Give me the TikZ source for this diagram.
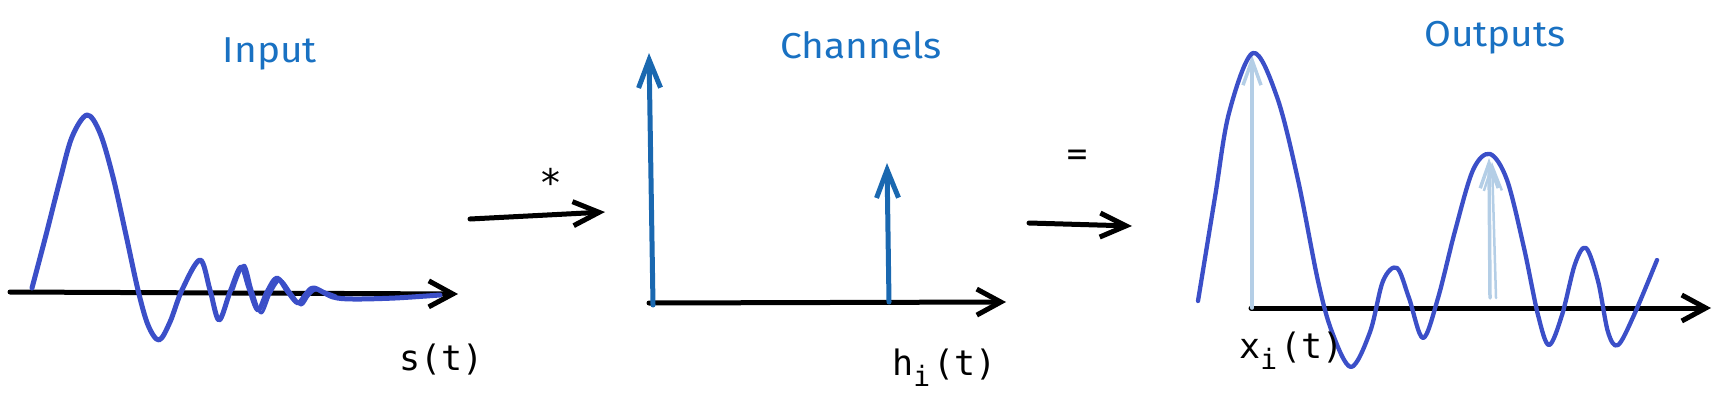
\documentclass[tikz,border=0pt]{standalone}
\usepackage{fontspec}
\setmainfont{Fira Sans}
\newfontfamily\monof{DejaVu Sans Mono}
\usetikzlibrary{arrows.meta}
\definecolor{wavec}{HTML}{3B4FC8}
\definecolor{chanc}{HTML}{1A68B0}
\definecolor{ghostc}{HTML}{B4CEE6}
\definecolor{titlec}{HTML}{1971C2}
\newcommand{\subi}{\makebox[20.5pt][l]{\raisebox{-11pt}{\fontsize{28}{28}\selectfont i}}}
\begin{document}
\begin{tikzpicture}[x=1pt,y=-1pt,
  axisline/.style={draw=black,line width=5pt,line cap=round,-{Straight Barb[length=24pt,width=26pt]}},
  joinarrow/.style={draw=black,line width=5pt,line cap=round,-{Straight Barb[length=26pt,width=24pt]}},
  wave/.style={draw=wavec,line width=5pt,line join=round,line cap=round},
  impulse/.style={draw=chanc,line width=5pt,line cap=round,-{Straight Barb[length=28pt,width=22pt]}},
  ghost/.style={draw=ghostc,line width=3.5pt,line cap=round,-{Straight Barb[length=25pt,width=18pt]}},
  title/.style={text=titlec,font=\fontsize{36}{38}\selectfont,inner sep=0pt,anchor=base},
  lbl/.style={font=\monof\fontsize{35}{37}\selectfont,inner sep=0pt,anchor=base west},
  op/.style={font=\monof\fontsize{38}{40}\selectfont,inner sep=0pt}]
\useasboundingbox (0,0) rectangle (1723,405);

% ---------- titles ----------
\node[title] (tin) at (270,62) {\scalebox{1.08}[1]{Input}};
\node[title] (tch) at (861,58) {\scalebox{1.08}[1]{Channels}};
\node[title] (tout) at (1495,46) {\scalebox{1.08}[1]{Outputs}};

% ---------- panel 1: input ----------
\coordinate (ax1s) at (10,292);
\coordinate (ax1e) at (458,294);
\draw[axisline] (ax1s) -- (ax1e);
\draw[wave] plot[smooth,tension=0.55] coordinates {
 (32,288) (46,235) (60,180) (72,137) (87,115) (100,133) (113,177) (126,235)
 (138,290) (148,325) (159,340) (170,322) (182,290) (200,260) (210,290)
 (219,320) (230,292) (241,267) (249,288) (258,310) (267,292) (277,278)
 (288,292) (298,303) (306,294) (314,288) (333,297) (353,299) (395,298) (440,295)};
\draw[wave,line width=3pt] plot[smooth,tension=0.55] coordinates {
 (233,290) (244,265) (252,290) (261,313) (270,294) (280,280) (291,293)
 (301,305) (309,295) (317,290) (336,296)};
\node[lbl] (ls) at (399,370) {s(t)};

% ---------- operator * ----------
\coordinate (c1s) at (470,219);
\coordinate (c1e) at (605,212);
\draw[joinarrow] (c1s) -- (c1e);
\node[op] (star) at (551,182) {*};

% ---------- panel 2: channels ----------
\coordinate (ax2s) at (649,303);
\coordinate (ax2e) at (1006,302);
\draw[axisline] (ax2s) -- (ax2e);
\coordinate (i1s) at (653,305);
\coordinate (i1e) at (649,53);
\coordinate (i2s) at (889,302);
\coordinate (i2e) at (887,163);
\draw[impulse] (i1s) -- (i1e);
\draw[impulse] (i2s) -- (i2e);
\node[lbl] (lh) at (892,375) {h\subi(t)};

% ---------- operator = ----------
\coordinate (c2s) at (1029,223);
\coordinate (c2e) at (1132,226);
\draw[joinarrow] (c2s) -- (c2e);
\node[op,font=\monof\fontsize{34}{36}\selectfont] (eq) at (1077,158) {=};

% ---------- panel 3: outputs ----------
\coordinate (ax3s) at (1251,308);
\coordinate (ax3e) at (1711,308);
\draw[axisline] (ax3s) -- (ax3e);
\coordinate (g1s) at (1252,308);
\coordinate (g1e) at (1252,55);
\coordinate (g2s) at (1490,298);
\coordinate (g2e) at (1489,158);
\coordinate (g3s) at (1496,298);
\coordinate (g3e) at (1492,162);
\draw[ghost] (g1s) -- (g1e);
\draw[ghost] (g2s) -- (g2e);
\draw[ghost,line width=2.5pt] (g3s) -- (g3e);
\draw[wave,line width=4.3pt] plot[smooth,tension=0.55] coordinates {
 (1198,301) (1215,197) (1229,113) (1253,53) (1277,97) (1298,180) (1318,281)
 (1332,332) (1351,367) (1370,332) (1383,281) (1397,268) (1409,298) (1423,338)
 (1438,298) (1455,231) (1473,170) (1490,154) (1507,180) (1524,248) (1538,315)
 (1549,345) (1562,315) (1575,264) (1586,248) (1598,281) (1608,332) (1618,345)
 (1634,315) (1657,260)};
\node[lbl] (lx) at (1239,358) {x\subi(t)};
\end{tikzpicture}
\end{document}
